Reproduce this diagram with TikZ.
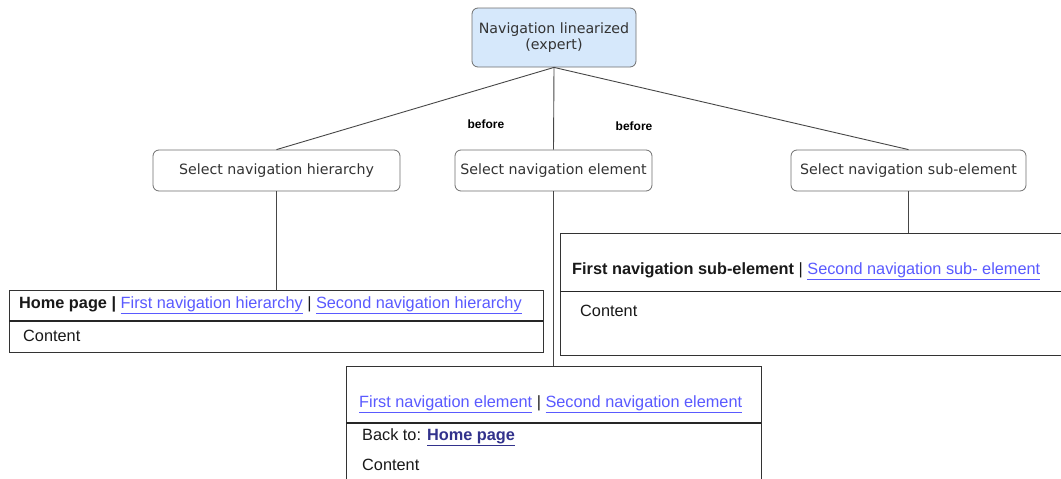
\documentclass[tikz,border=0pt]{standalone}
\usepackage{fontspec}
\setmainfont{Liberation Sans}
\newfontfamily\labelfont{DejaVu Sans}
\definecolor{linkblue}{RGB}{90,90,255}
\definecolor{visited}{RGB}{50,50,140}
\definecolor{nodefill}{RGB}{214,232,251}
\definecolor{nodeedge}{RGB}{110,110,110}
\definecolor{wire}{RGB}{70,70,70}
\newcommand{\lnk}[1]{{\color{linkblue}\underline{#1}}}
\newcommand{\vlnk}[1]{{\color{visited}\bfseries\underline{#1}}}
\begin{document}
\begin{tikzpicture}[x=1pt,y=-1pt,
  labelbox/.style={draw=nodeedge, line width=0.8pt, rounded corners=6pt, fill=white,
    font=\labelfont\fontsize{14.2}{16.5}\selectfont, text=black!80, inner sep=2pt},
  rootbox/.style={labelbox, fill=nodefill, align=center},
  pagebox/.style={draw=black!80, line width=0.9pt, fill=white, inner sep=0pt},
  pagetext/.style={anchor=west, inner sep=0pt, font=\fontsize{16.3}{19}\selectfont, text=black!90},
  divider/.style={line width=1.6pt, black!85},
  wireline/.style={draw=wire, line width=0.9pt},
  beforelbl/.style={font=\bfseries\fontsize{12}{14}\selectfont, inner sep=0pt}
]
\useasboundingbox (0,0) rectangle (1061,479);

% decision nodes
\node[rootbox, minimum width=164pt, minimum height=59pt] (root) at (554,37.5)
  {Navigation linearized\\(expert)};
\node[labelbox, minimum width=247pt, minimum height=41pt] (hier) at (276.5,170.5)
  {Select navigation hierarchy};
\node[labelbox, minimum width=197pt, minimum height=41pt] (elem) at (553.5,170.5)
  {Select navigation element};
\node[labelbox, minimum width=235pt, minimum height=41pt] (sub) at (908.5,170.5)
  {Select navigation sub-element};

\node[beforelbl] (b1) at (486,124) {before};
\node[beforelbl] (b2) at (634,126) {before};

% page mock-ups
\node[pagebox, minimum width=534pt, minimum height=62pt] (pg1) at (276,321) {};
\node[pagebox, minimum width=510pt, minimum height=122pt] (pg2) at (815,294) {};
\node[pagebox, minimum width=415pt, minimum height=130pt] (pg3) at (553.5,431) {};

\coordinate (d1) at (9,321);
\coordinate (d2) at (560,291);
\coordinate (d3) at (346,423);
\draw[divider] (d1) -- (d1 -| pg1.east);
\draw[divider, line width=1pt] (d2) -- (d2 -| pg2.east);
\draw[divider] (d3) -- (d3 -| pg3.east);

\node[pagetext] (h1) at (19,305) {\textbf{Home page |} \lnk{First navigation hierarchy} | \lnk{Second navigation hierarchy}};
\node[pagetext] (c1) at (23,336) {Content};

\node[pagetext] (h2) at (572,271) {\textbf{First navigation sub-element} | \lnk{Second navigation sub- element}};
\node[pagetext] (c2) at (580,311) {Content};

\node[pagetext] (h3) at (359,404) {\lnk{First navigation element} | \lnk{Second navigation element}};
\node[pagetext] (bk3) at (362,437) {Back to: \vlnk{Home page}};
\node[pagetext] (c3) at (362,465) {Content};

% connectors
\draw[wireline] (root.south) -- (hier.north);
\draw[wireline] (root.south) -- (elem.north);
\draw[wireline] (root.south) -- (sub.north);
\draw[wireline] (hier.south) -- (hier.south |- pg1.north);
\draw[wireline] (elem.south) -- (elem.south |- pg3.north);
\draw[wireline] (sub.south) -- (sub.south |- pg2.north);
\end{tikzpicture}
\end{document}
